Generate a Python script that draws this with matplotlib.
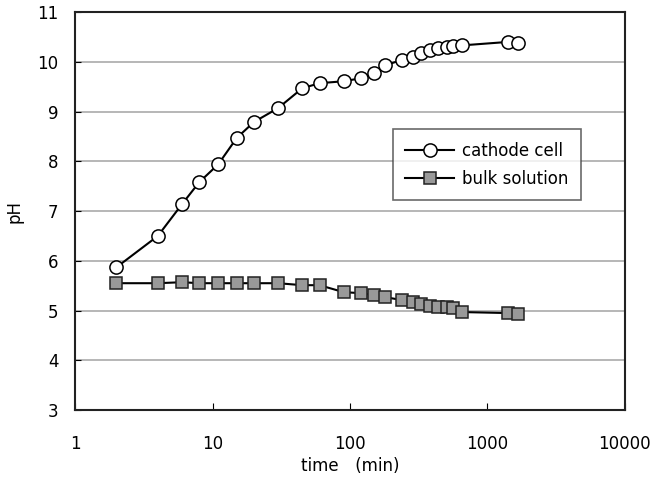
import matplotlib
matplotlib.use('Agg')
import matplotlib.pyplot as plt

# time (min) and pH
time_min = [2, 4, 6, 8, 11, 15, 20, 30, 45, 60, 90, 120, 150, 180, 240,
            285, 330, 380, 435, 505, 560, 650, 1410, 1660]
ph_cathode = [5.87, 6.50, 7.14, 7.58, 7.94, 8.47, 8.79, 9.07, 9.47, 9.57,
              9.61, 9.67, 9.77, 9.93, 10.04, 10.10, 10.18, 10.24, 10.28,
              10.30, 10.32, 10.33, 10.40, 10.38]
ph_bulk = [5.55, 5.55, 5.57, 5.55, 5.55, 5.55, 5.55, 5.55, 5.51, 5.51,
           5.37, 5.35, 5.31, 5.27, 5.21, 5.17, 5.13, 5.10, 5.08, 5.07,
           5.06, 4.97, 4.95, 4.93]

x_ticks = [1, 10, 100, 1000, 10000]
y_ticks = [3, 4, 5, 6, 7, 8, 9, 10, 11]

plt.rcParams['font.family'] = ['DejaVu Sans', 'Noto Sans CJK JP']

fig = plt.figure(figsize=(6.53, 4.83), dpi=100)
ax = fig.add_axes([0.115, 0.151, 0.842, 0.824])

ax.plot(time_min, ph_cathode, '-o', color='black', lw=1.5,
        markerfacecolor='white', markeredgecolor='black', markersize=9.5,
        markeredgewidth=1.1, label='cathode cell', zorder=3)
ax.plot(time_min, ph_bulk, '-s', color='black', lw=1.5,
        markerfacecolor='#999999', markeredgecolor='#222222', markersize=8.5,
        markeredgewidth=1.1, label='bulk solution', zorder=3)

ax.set_xscale('log')
ax.set_xlim(1, 10000)
ax.set_ylim(3, 11)
ax.set_xticks(x_ticks)
ax.set_xticklabels([str(t) for t in x_ticks])
ax.minorticks_off()
ax.set_yticks(y_ticks)
ax.yaxis.grid(True, color='#aaaaaa', lw=1.2)
ax.set_axisbelow(True)

ax.tick_params(axis='x', direction='in', length=5, pad=18, labelsize=12)
ax.tick_params(axis='y', direction='in', length=4, pad=12, labelsize=12)
for s in ax.spines.values():
    s.set_linewidth(1.5)
    s.set_color('#222222')

ax.set_xlabel('time\u3000(min)', fontsize=12, labelpad=3)
ax.set_ylabel('pH', fontsize=12, labelpad=10)

leg = ax.legend(loc='upper left', bbox_to_anchor=(0.578, 0.706),
                borderaxespad=0, fontsize=12, frameon=True, fancybox=False,
                edgecolor='#444444', handlelength=2.9, borderpad=0.75,
                labelspacing=0.6, handletextpad=0.5)
leg.get_frame().set_linewidth(1.2)

fig.savefig('out.png', dpi=100)
